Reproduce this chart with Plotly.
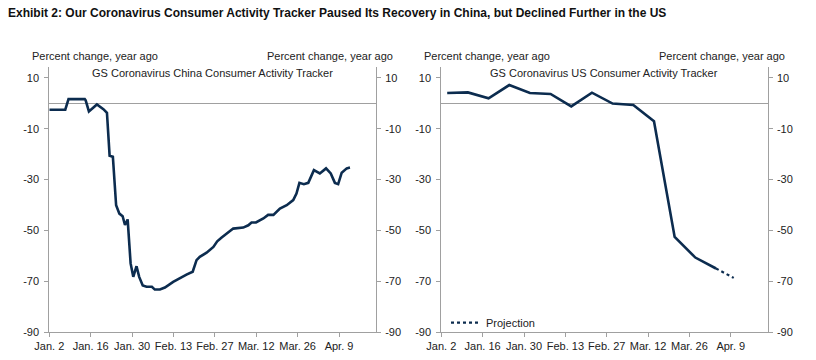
import pandas as pd
import plotly.graph_objects as go

TITLE = "Exhibit 2: Our Coronavirus Consumer Activity Tracker Paused Its Recovery in China, but Declined Further in the US"
AXIS_TITLE = "Percent change, year ago"
CHINA_TITLE = "GS Coronavirus China Consumer Activity Tracker"
US_TITLE = "GS Coronavirus US Consumer Activity Tracker"

# China tracker: days since Jan. 2, 2020 and % change yoy
china_day = [0, 5.4, 6.5, 12.0, 12.3, 13.4, 16.1, 18.3, 19.5, 20.4, 21.5, 22.6, 23.7, 24.8,
             25.6, 26.5, 27.5, 28.4, 29.5, 30.4, 31.6, 32.9, 34.7, 35.7, 37.4, 39.1, 41.9,
             44.8, 46.4, 48.5, 49.8, 50.9, 53.2, 55.5, 56.8, 58.3, 60.0, 62.2, 65.6, 67.3,
             68.4, 69.9, 72.4, 74.0, 75.8, 78.0, 80.3, 82.5, 83.6, 84.6, 86.1, 87.6, 89.5,
             91.5, 93.6, 95.2, 96.6, 97.7, 98.9, 100.6, 101.7]
china_val = [-2.5, -2.5, 1.65, 1.65, 1.2, -3.2, -0.45, -2.3, -3.7, -20.6, -21.0, -40.1, -43.4, -44.4,
             -47.9, -45.7, -63.0, -68.3, -64.1, -68.3, -71.7, -72.2, -72.2, -73.3, -73.3, -72.5, -70.3,
             -68.3, -67.4, -66.3, -61.7, -60.4, -58.8, -56.5, -54.3, -52.8, -51.2, -49.3, -48.9, -48.0,
             -46.9, -46.9, -45.3, -43.9, -43.9, -41.4, -40.1, -38.1, -35.5, -31.3, -31.8, -31.3, -26.3,
             -27.6, -25.6, -27.6, -31.3, -31.8, -27.3, -25.6, -25.3]

# US tracker: weekly
us_dates = ["2020-01-04", "2020-01-11", "2020-01-18", "2020-01-25", "2020-02-01", "2020-02-08",
            "2020-02-15", "2020-02-22", "2020-02-29", "2020-03-07", "2020-03-14", "2020-03-21",
            "2020-03-28", "2020-04-04"]
us_val = [4.05, 4.3, 2.0, 7.2, 4.05, 3.7, -1.2, 4.2, -0.1, -0.65, -7.05, -52.6, -60.7, -65.0]
proj_dates = ["2020-04-04", "2020-04-10"]
proj_val = [-65.0, -68.7]

tick_dates = ["2020-01-02", "2020-01-16", "2020-01-30", "2020-02-13", "2020-02-27",
              "2020-03-12", "2020-03-26", "2020-04-09"]
tick_text = ["Jan. 2", "Jan. 16", "Jan. 30", "Feb. 13", "Feb. 27", "Mar. 12", "Mar. 26", "Apr. 9"]
y_ticks = [-90, -70, -50, -30, -10, 10]
y_text = ["-90", "-70", "-50", "-30", "-10", "10"]

start = pd.Timestamp("2020-01-02")
china_dates = [start + pd.Timedelta(days=d) for d in china_day]

W, H = 816, 360
LINE = "#0c2c4f"
GRAY = "#a0a0a0"
TXT = "#222222"
FONT = "Liberation Sans, Arial, sans-serif"

fig = go.Figure()
fig.add_trace(go.Scatter(x=china_dates, y=china_val, mode="lines", xaxis="x", yaxis="y",
                         line=dict(color=LINE, width=2.6), showlegend=False, hoverinfo="skip"))
fig.add_trace(go.Scatter(x=[None], y=[None], xaxis="x", yaxis="y2", showlegend=False))
fig.add_trace(go.Scatter(x=us_dates, y=us_val, mode="lines", xaxis="x2", yaxis="y3",
                         line=dict(color=LINE, width=2.6), showlegend=False, hoverinfo="skip"))
fig.add_trace(go.Scatter(x=proj_dates, y=proj_val, mode="lines", xaxis="x2", yaxis="y3",
                         name="Projection", line=dict(color=LINE, width=2.2, dash="dot"),
                         showlegend=True, hoverinfo="skip"))
fig.add_trace(go.Scatter(x=[None], y=[None], xaxis="x2", yaxis="y4", showlegend=False))

xr = ["2020-01-02", "2020-04-21 12:00"]
yr = [-90, 14.3]
ydom = [1 - 332 / H, 1 - 67 / H]

def xax(domain, anchor):
    return dict(domain=domain, anchor=anchor, type="date", range=xr, tickvals=tick_dates,
                ticktext=tick_text, ticks="outside", ticklen=4, tickcolor=GRAY, showline=True,
                linecolor=GRAY, linewidth=1, showgrid=False, zeroline=False, automargin=False,
                tickfont=dict(size=11, color=TXT, family=FONT))

def yax(anchor, side="left", overlaying=None, zero=False, standoff=3):
    d = dict(anchor=anchor, domain=ydom, range=yr, tickvals=y_ticks, ticktext=y_text,
             ticks="outside", ticklen=4, automargin=False, ticklabelstandoff=standoff,
             tickcolor=GRAY, showline=True, linecolor=GRAY, linewidth=1, showgrid=False,
             zeroline=zero, zerolinecolor=GRAY, zerolinewidth=1, side=side,
             tickfont=dict(size=11, color=TXT, family=FONT))
    if overlaying:
        d["overlaying"] = overlaying
    return d

fig.update_layout(
    width=W, height=H, margin=dict(l=0, r=0, t=0, b=0, autoexpand=False),
    paper_bgcolor="white", plot_bgcolor="white",
    font=dict(family=FONT, size=11, color=TXT),
    xaxis=xax([49.3 / W, 376 / W], "y"),
    xaxis2=xax([441.3 / W, 767.7 / W], "y3"),
    yaxis=yax("x", zero=True),
    yaxis2=yax("x", side="right", overlaying="y", standoff=2),
    yaxis3=yax("x2", zero=True),
    yaxis4=yax("x2", side="right", overlaying="y3", standoff=2),
    legend=dict(x=446 / W, y=1 - 322.7 / H, xanchor="left", yanchor="middle",
                bgcolor="rgba(0,0,0,0)", font=dict(size=11, color=TXT, family=FONT),
                itemwidth=30, tracegroupgap=0),
)

ann = [
    dict(text="<b>" + TITLE + "</b>", x=6 / W, y=1 - 13 / H, xanchor="left", yanchor="middle",
         font=dict(size=12, family=FONT, color="#111")),
    dict(text=AXIS_TITLE, x=30 / W, y=1 - 55.7 / H, xanchor="left", yanchor="middle"),
    dict(text=AXIS_TITLE, x=395 / W, y=1 - 55.7 / H, xanchor="right", yanchor="middle"),
    dict(text=AXIS_TITLE, x=421.7 / W, y=1 - 55.7 / H, xanchor="left", yanchor="middle"),
    dict(text=AXIS_TITLE, x=786.7 / W, y=1 - 55.7 / H, xanchor="right", yanchor="middle"),
    dict(text=CHINA_TITLE, x=212 / W, y=1 - 73.3 / H, xanchor="center", yanchor="middle"),
    dict(text=US_TITLE, x=603.7 / W, y=1 - 73.3 / H, xanchor="center", yanchor="middle"),
]
for a in ann:
    a.update(xref="paper", yref="paper", showarrow=False)
    if "font" not in a:
        a["font"] = dict(size=11, family=FONT, color=TXT)
fig.update_layout(annotations=ann)

fig.write_html("out.html", config={"displayModeBar": False},
               post_script="document.body.style.margin='0';document.body.style.overflow='hidden';")
